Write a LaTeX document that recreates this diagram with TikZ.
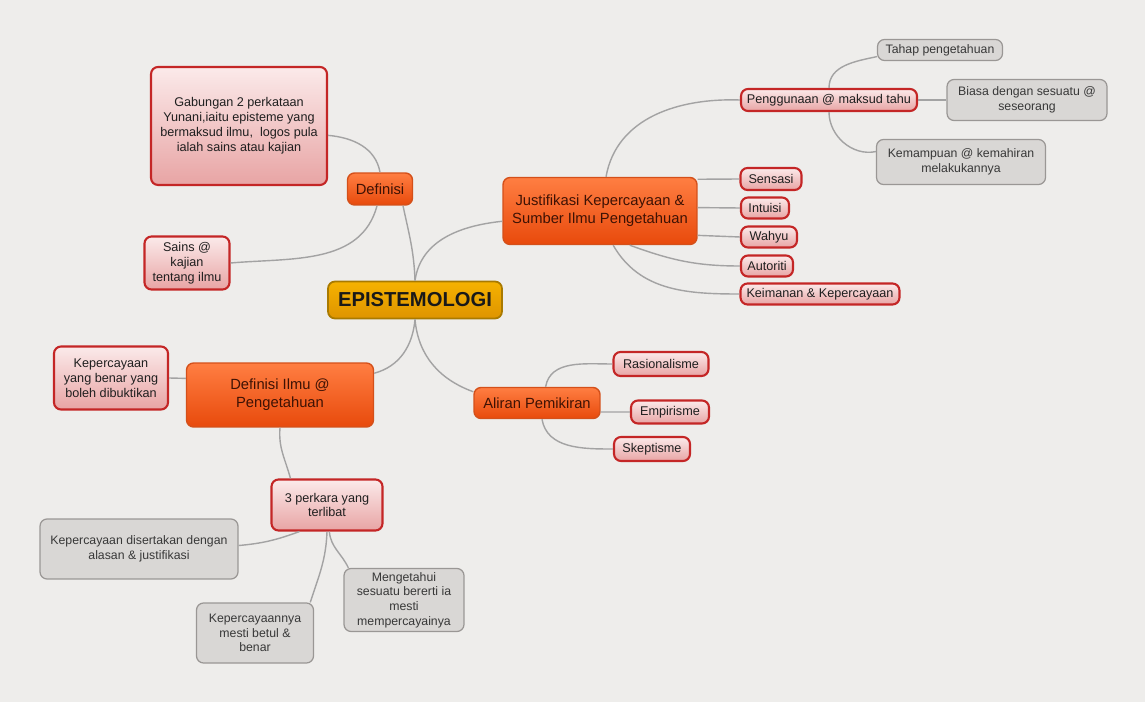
\documentclass[tikz,border=0pt]{standalone}
\usepackage{fontspec}
\setmainfont{Liberation Sans}
\usetikzlibrary{positioning}

\definecolor{bgcol}{HTML}{EEEDEB}
\definecolor{linkcol}{HTML}{A3A3A3}
\definecolor{rootA}{HTML}{F6B200}
\definecolor{rootB}{HTML}{DE9400}
\definecolor{rootline}{HTML}{A97A00}
\definecolor{oraA}{HTML}{FF7E42}
\definecolor{oraB}{HTML}{E84A0C}
\definecolor{oraline}{HTML}{D4501A}
\definecolor{oratext}{HTML}{3E1204}
\definecolor{pinkA}{HTML}{FBEAEA}
\definecolor{pinkB}{HTML}{E8A4A4}
\definecolor{pinkline}{HTML}{C42626}
\definecolor{greyfill}{HTML}{D9D7D5}
\definecolor{greyline}{HTML}{9A9795}

\begin{document}
\begin{tikzpicture}[x=0.02cm,y=-0.02cm,
    root/.style={draw=rootline, line width=1pt, rounded corners=4pt,
      top color=rootA, bottom color=rootB, text=black!90,
      font=\fontsize{11.5}{13}\selectfont\bfseries, inner sep=1pt},
    mainbr/.style={draw=oraline, line width=0.8pt, rounded corners=4pt,
      top color=oraA, bottom color=oraB, text=oratext, align=center,
      font=\fontsize{8.4}{10.2}\selectfont, inner sep=1pt},
    subbr/.style={draw=pinkline, line width=1.2pt, rounded corners=4pt,
      top color=pinkA, bottom color=pinkB, text=black!88, align=center,
      font=\fontsize{7.2}{8.5}\selectfont, inner sep=1pt},
    leaf/.style={draw=greyline, line width=0.7pt, rounded corners=4pt,
      fill=greyfill, text=black!78, align=center,
      font=\fontsize{7}{8.4}\selectfont, inner sep=1pt},
    link/.style={draw=linkcol, line width=0.8pt}]

  % latar belakang
  \fill[bgcol] (0,0) rectangle (1145,702);
  \useasboundingbox (0,0) rectangle (1145,702);

  % pusat
  \node (root) [root, minimum width=3.48cm, minimum height=0.74cm] at (415,300) {EPISTEMOLOGI};

  % cabang Definisi
  \node (def) [mainbr, minimum width=1.30cm, minimum height=0.64cm] at (380,189) {Definisi};
  \node (gab) [subbr, minimum width=3.52cm, minimum height=2.36cm] at (239,126)
    {Gabungan 2 perkataan\\Yunani,iaitu episteme yang\\bermaksud ilmu,\ \ logos pula\\ialah sains atau kajian};
  \node (sains) [subbr, minimum width=1.70cm, minimum height=1.06cm] at (187,263) {Sains @\\kajian\\tentang ilmu};

  % cabang Justifikasi
  \node (just) [mainbr, minimum width=3.88cm, minimum height=1.34cm] at (600,211)
    {Justifikasi Kepercayaan \&\\Sumber Ilmu Pengetahuan};
  \node (peng) [subbr, minimum width=3.52cm, minimum height=0.44cm] at (829,100) {Penggunaan @ maksud tahu};
  \node (tahap) [leaf, minimum width=2.50cm, minimum height=0.42cm] at (940,50) {Tahap pengetahuan};
  \node (biasa) [leaf, minimum width=3.20cm, minimum height=0.82cm] at (1027,100) {Biasa dengan sesuatu @\\seseorang};
  \node (kemam) [leaf, minimum width=3.38cm, minimum height=0.90cm] at (961,162) {Kemampuan @ kemahiran\\melakukannya};
  \node (sens) [subbr, minimum width=1.22cm, minimum height=0.44cm] at (771,179) {Sensasi};
  \node (intu) [subbr, minimum width=0.96cm, minimum height=0.42cm] at (765,208) {Intuisi};
  \node (wahyu) [subbr, minimum width=1.12cm, minimum height=0.42cm] at (769,237) {Wahyu};
  \node (auto) [subbr, minimum width=1.04cm, minimum height=0.42cm] at (767,266) {Autoriti};
  \node (keim) [subbr, minimum width=3.18cm, minimum height=0.42cm] at (820,294) {Keimanan \& Kepercayaan};

  % cabang Definisi Ilmu
  \node (defil) [mainbr, minimum width=3.74cm, minimum height=1.28cm] at (280,395) {Definisi Ilmu @\\Pengetahuan};
  \node (kpb) [subbr, minimum width=2.28cm, minimum height=1.26cm] at (111,378) {Kepercayaan\\yang benar yang\\boleh dibuktikan};
  \node (tiga) [subbr, minimum width=2.22cm, minimum height=1.02cm] at (327,505) {3 perkara yang\\terlibat};
  \node (kdis) [leaf, minimum width=3.96cm, minimum height=1.20cm] at (139,549) {Kepercayaan disertakan dengan\\alasan \& justifikasi};
  \node (knya) [leaf, minimum width=2.34cm, minimum height=1.20cm] at (255,633) {Kepercayaannya\\mesti betul \&\\benar};
  \node (meng) [leaf, minimum width=2.40cm, minimum height=1.26cm] at (404,600) {Mengetahui\\sesuatu bererti ia\\mesti\\mempercayainya};

  % cabang Aliran Pemikiran
  \node (aliran) [mainbr, minimum width=2.52cm, minimum height=0.62cm] at (537,403) {Aliran Pemikiran};
  \node (rasio) [subbr, minimum width=1.90cm, minimum height=0.48cm] at (661,364) {Rasionalisme};
  \node (empi) [subbr, minimum width=1.56cm, minimum height=0.46cm] at (670,412) {Empirisme};
  \node (skep) [subbr, minimum width=1.52cm, minimum height=0.48cm] at (652,449) {Skeptisme};

  % garis penghubung
  \draw[link] (root.north) to[out=92,in=-78] (def.-36);
  \draw[link] (root.north) to[out=82,in=186] (just.186);
  \draw[link] (root.south) to[out=-95,in=15] (defil.13);
  \draw[link] (root.south) to[out=-85,in=160] (aliran.170);

  \draw[link] (def.north) to[out=100,in=-5] (gab.-6);
  \draw[link] (def.-100) to[out=-105,in=5] (sains.east);

  \draw[link] (just.80) to[out=80,in=178] (peng.west);
  \draw[link] (just.18) -- (sens.west);
  \draw[link] (just.2) -- (intu.west);
  \draw[link] (just.-14) -- (wahyu.west);
  \draw[link] (just.-49) to[out=-20,in=180] (auto.west);
  \draw[link] (just.-69) to[out=-60,in=180] (keim.west);

  \draw[link] (peng.north) to[out=90,in=192] (tahap.186);
  \draw[link] (peng.east) -- (biasa.west);
  \draw[link] (peng.south) to[out=-90,in=192] (kemam.173);

  \draw[link] (kpb.east) -- (defil.170);
  \draw[link] (defil.south) to[out=-95,in=105] (tiga.144);
  \draw[link] (tiga.-136) to[out=-160,in=5] (kdis.2);
  \draw[link] (tiga.south) to[out=-92,in=72] (knya.29);
  \draw[link] (tiga.-85) to[out=-85,in=115] (meng.150);

  \draw[link] (aliran.62) to[out=80,in=180] (rasio.west);
  \draw[link] (aliran.-8) -- (empi.west);
  \draw[link] (aliran.-73) to[out=-80,in=180] (skep.west);
\end{tikzpicture}
\end{document}
